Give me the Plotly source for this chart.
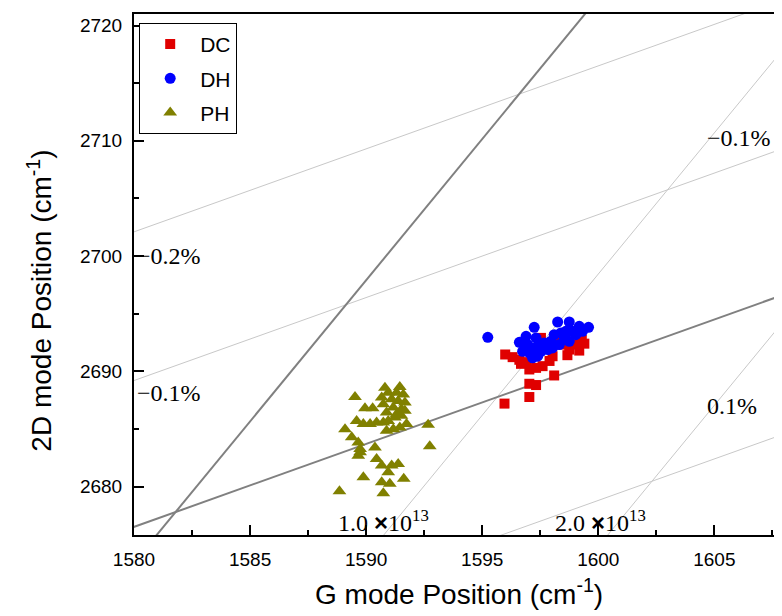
import plotly.graph_objects as go

# ---------------- data ----------------
DC_G = [1595.99, 1596.31, 1596.60, 1596.67, 1597.03, 1597.32, 1597.60, 1597.53, 1598.03, 1598.67,
        1599.18, 1599.29, 1598.75, 1598.10, 1597.03, 1597.32, 1597.03, 1595.96, 1598.46, 1599.03,
        1597.90, 1598.30, 1599.40, 1596.90]
DC_2D = [2691.46, 2691.23, 2691.00, 2690.65, 2690.16, 2690.30, 2690.45, 2692.90, 2691.31, 2691.40,
         2691.80, 2692.75, 2691.89, 2689.64, 2688.92, 2688.81, 2687.77, 2687.20, 2692.32, 2692.32,
         2690.90, 2692.60, 2692.40, 2690.80]

DH_G = [1595.24, 1597.24, 1598.25, 1598.75, 1599.18, 1599.58, 1596.60, 1596.89, 1597.32, 1597.46,
        1596.74, 1597.03, 1597.17, 1597.39, 1597.67, 1597.96, 1598.10, 1598.39, 1598.60, 1598.89,
        1599.03, 1598.53, 1598.75, 1598.32, 1598.03, 1597.82, 1597.53, 1597.24, 1596.96, 1599.32]
DH_2D = [2692.95, 2693.82, 2694.28, 2694.28, 2693.90, 2693.82, 2692.52, 2693.04, 2692.90, 2692.32,
         2691.74, 2691.60, 2691.17, 2691.31, 2692.46, 2692.61, 2693.18, 2693.33, 2693.47, 2693.47,
         2693.18, 2692.75, 2692.61, 2692.32, 2692.03, 2691.89, 2691.74, 2692.03, 2692.32, 2693.47]

PH_G = [1589.52, 1590.81, 1591.45, 1590.95, 1591.31, 1591.60, 1590.67, 1591.10, 1591.38, 1591.67,
        1590.74, 1591.17, 1591.52, 1590.88, 1591.31, 1591.67, 1589.95, 1590.28, 1589.88, 1590.17,
        1590.45, 1590.74, 1590.95, 1591.24, 1591.52, 1591.74, 1591.45, 1591.17, 1590.88, 1589.59,
        1589.09, 1592.67, 1589.38, 1589.66, 1589.74, 1589.74, 1589.66, 1590.38, 1592.74, 1590.45,
        1590.67, 1591.10, 1591.38, 1589.88, 1590.95, 1590.67, 1591.02, 1591.62, 1588.85, 1590.74]
PH_2D = [2687.78, 2688.58, 2688.64, 2688.15, 2688.15, 2688.00, 2687.72, 2687.58, 2687.43, 2687.29,
         2687.14, 2686.86, 2686.71, 2686.42, 2686.28, 2686.57, 2686.80, 2686.80, 2685.42, 2685.42,
         2685.56, 2685.56, 2685.70, 2686.00, 2686.14, 2685.42, 2685.13, 2684.98, 2684.84, 2685.70,
         2684.98, 2685.36, 2684.27, 2683.83, 2683.26, 2682.97, 2682.68, 2683.40, 2683.49, 2682.39,
         2681.82, 2681.82, 2681.96, 2680.81, 2681.24, 2680.38, 2680.24, 2680.67, 2679.60, 2679.43]

# reference grid (strain / doping correlation lines)
ORIGIN = (1581.79, 2677.79)          # intrinsic, unstrained point
STRAIN_SLOPE = 2.45                  # d(w2D)/d(wG) for pure strain
DOPING_SLOPE = 0.72                  # d(w2D)/d(wG) for pure doping
ISO_STRAIN_2D_AT_1580 = [2702.1, 2689.2, 2664.4]   # -0.2 %, -0.1 %, +0.1 %
ISO_DOPING_G_AT_2675_9 = [1590.8, 1600.45]         # 1.0e13, 2.0e13 cm^-2

X_RANGE = [1580, 1608]
Y_RANGE = [2675.8, 2721.0]

# ---------------- figure ----------------
fig = go.Figure()

GX = [1570, 1620]

def line_pts(px, py, slope):
    return GX, [py + slope * (g - px) for g in GX]

thin = dict(color="#c8c8c8", width=1)
thick = dict(color="#808080", width=2)

for y0 in ISO_STRAIN_2D_AT_1580:
    xs, ys = line_pts(1580, y0, DOPING_SLOPE)
    fig.add_trace(go.Scatter(x=xs, y=ys, mode="lines", line=thin, showlegend=False, hoverinfo="skip"))
for g0 in ISO_DOPING_G_AT_2675_9:
    xs, ys = line_pts(g0, 2675.9, STRAIN_SLOPE)
    fig.add_trace(go.Scatter(x=xs, y=ys, mode="lines", line=thin, showlegend=False, hoverinfo="skip"))
for s in [STRAIN_SLOPE, DOPING_SLOPE]:
    xs, ys = line_pts(ORIGIN[0], ORIGIN[1], s)
    fig.add_trace(go.Scatter(x=xs, y=ys, mode="lines", line=thick, showlegend=False, hoverinfo="skip"))

fig.add_trace(go.Scatter(x=DC_G, y=DC_2D, mode="markers", name="DC", legendgroup="DC",
                         marker=dict(symbol="square", size=10, color="#e00000")))
fig.add_trace(go.Scatter(x=DH_G, y=DH_2D, mode="markers", name="DH", legendgroup="DH",
                         marker=dict(symbol="circle", size=11, color="#0000ff")))
fig.add_trace(go.Scatter(x=PH_G, y=PH_2D, mode="markers", name="PH", legendgroup="PH",
                         marker=dict(symbol="triangle-up", size=12, color="#808000")))

serif = dict(family="Liberation Serif, Times New Roman, serif", size=24, color="black")
times_sign = "<span style='font-family:Liberation Sans'><b>×</b></span>"
ann = [
    dict(x=1580.05, y=2700.0, text="−0.2%"),
    dict(x=1580.05, y=2688.1, text="−0.1%"),
    dict(x=1604.6, y=2710.2, text="−0.1%"),
    dict(x=1604.6, y=2687.0, text="0.1%"),
    dict(x=1588.7, y=2677.0, text="1.0 " + times_sign + "10<sup>13</sup>"),
    dict(x=1598.05, y=2677.0, text="2.0 " + times_sign + "10<sup>13</sup>"),
]
for a in ann:
    fig.add_annotation(x=a["x"], y=a["y"], text=a["text"], xanchor="left", yanchor="middle",
                       showarrow=False, font=serif, xref="x", yref="y")

sans = "Liberation Sans, Arial, sans-serif"
fig.add_annotation(text="G mode Position (cm<sup>-1</sup>)", xref="paper", yref="paper",
                   x=0.5, y=-0.11, xanchor="center", yanchor="middle", showarrow=False,
                   font=dict(family=sans, size=28, color="black"))
fig.add_annotation(text="2D mode Position (cm<sup>-1</sup>)", xref="paper", yref="paper",
                   x=-0.146, y=0.45, xanchor="center", yanchor="middle", showarrow=False,
                   textangle=-90, font=dict(family=sans, size=28, color="black"))

axis_common = dict(showgrid=False, zeroline=False, showline=True, linecolor="black", linewidth=2,
                   mirror=True, ticks="inside", ticklen=10, tickwidth=1.5, tickcolor="black",
                   tickfont=dict(family=sans, size=19, color="black"), ticklabelstandoff=6)
fig.update_xaxes(range=X_RANGE, dtick=5, tick0=1580,
                 minor=dict(dtick=2.5, ticks="inside", ticklen=5, tickwidth=1.5, tickcolor="black"),
                 **axis_common)
fig.update_yaxes(range=Y_RANGE, dtick=10, tick0=2680,
                 minor=dict(dtick=5, ticks="inside", ticklen=5, tickwidth=1.5, tickcolor="black"),
                 **axis_common)

fig.update_layout(
    width=782, height=616,
    margin=dict(l=126, r=4, t=4, b=89),
    plot_bgcolor="white", paper_bgcolor="white",
    showlegend=True,
    legend=dict(x=0.008, y=0.983, xanchor="left", yanchor="top", bgcolor="white",
                bordercolor="black", borderwidth=1, itemwidth=50, tracegroupgap=4,
                font=dict(family=sans, size=21, color="black")),
)

fig.write_html("out.html")
